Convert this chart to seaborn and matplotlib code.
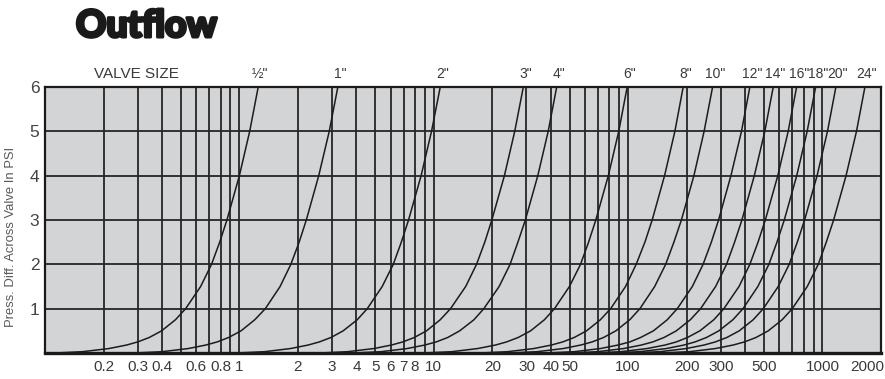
import matplotlib
matplotlib.use("Agg")
import matplotlib.pyplot as plt
import matplotlib.patheffects as pe
import seaborn as sns
import pandas as pd
from matplotlib.ticker import FixedLocator, FixedFormatter, LogLocator, NullFormatter
from matplotlib.transforms import ScaledTranslation

# ---------------- data ----------------
psi = [0, 0.03, 0.1, 0.18, 0.25, 0.35, 0.5, 0.75, 1, 1.5, 2, 2.5, 3, 4, 5, 6]

valve_labels = ['½"', '1"', '2"', '3"', '4"', '6"', '8"', '10"', '12"', '14"',
                '16"', '18"', '20"', '24"']

gpm_05 = [0.113, 0.156, 0.213, 0.263, 0.300, 0.344, 0.398, 0.469, 0.529, 0.632,
          0.719, 0.792, 0.863, 1.00, 1.13, 1.25]
gpm_1 = [0.289, 0.401, 0.545, 0.673, 0.769, 0.881, 1.02, 1.20, 1.36, 1.62,
         1.84, 2.03, 2.21, 2.56, 2.90, 3.21]
gpm_2 = [0.968, 1.35, 1.83, 2.26, 2.58, 2.96, 3.42, 4.04, 4.55, 5.43,
         6.19, 6.81, 7.42, 8.61, 9.74, 10.8]
gpm_3 = [2.60, 3.61, 4.91, 6.06, 6.93, 7.94, 9.18, 10.8, 12.2, 14.6,
         16.6, 18.3, 19.9, 23.1, 26.1, 28.9]
gpm_4 = [3.86, 5.36, 7.29, 9.00, 10.3, 11.8, 13.6, 16.1, 18.1, 21.7,
         24.7, 27.1, 29.6, 34.3, 38.8, 42.9]
gpm_6 = [8.90, 12.4, 16.8, 20.8, 23.7, 27.2, 31.5, 37.1, 41.8, 49.9,
         56.9, 62.6, 68.2, 79.1, 89.5, 98.9]
gpm_8 = [17.3, 24.0, 32.7, 40.3, 46.1, 52.8, 61.1, 72.0, 81.3, 97.0,
         110, 122, 133, 154, 174, 192]
gpm_10 = [24.5, 34.0, 46.3, 57.1, 65.3, 74.8, 86.5, 102, 115, 137,
          156, 172, 188, 218, 246, 272]
gpm_12 = [38.1, 52.9, 71.9, 88.8, 102, 116, 135, 159, 179, 214,
          243, 268, 292, 338, 383, 423]
gpm_14 = [50.2, 69.7, 94.8, 117, 134, 153, 177, 209, 236, 282,
          321, 353, 385, 446, 505, 558]
gpm_16 = [66.2, 92.0, 125, 155, 177, 202, 234, 276, 311, 372,
          423, 466, 508, 589, 666, 736]
gpm_18 = [82.9, 115, 157, 194, 221, 253, 293, 346, 390, 465,
          530, 583, 636, 737, 834, 922]
gpm_20 = [105, 146, 199, 246, 281, 322, 373, 440, 496, 592,
          674, 742, 809, 938, 1061, 1172]
gpm_24 = [149, 207, 281, 347, 397, 455, 526, 620, 699, 835,
          951, 1046, 1141, 1322, 1496, 1653]

x_tick_values = [0.2, 0.3, 0.4, 0.6, 0.8, 1, 2, 3, 4, 5, 6, 7, 8, 10, 20, 30,
                 40, 50, 100, 200, 300, 500, 1000, 2000]
x_tick_labels = ["0.2", "0.3", "0.4", "0.6", "0.8", "1", "2", "3", "4", "5",
                 "6", "7", "8", "10", "20", "30", "40", "50", "100", "200",
                 "300", "500", "1000", "2000"]
y_tick_values = [1, 2, 3, 4, 5, 6]

# ---------------- build table ----------------
all_flows = [gpm_05, gpm_1, gpm_2, gpm_3, gpm_4, gpm_6, gpm_8, gpm_10,
             gpm_12, gpm_14, gpm_16, gpm_18, gpm_20, gpm_24]
rows = []
for lab, flows in zip(valve_labels, all_flows):
    for p, q in zip(psi, flows):
        rows.append({"valve": lab, "gpm": q, "psi": p})
df = pd.DataFrame(rows)

# ---------------- plot ----------------
sns.set_theme(style="white")
plt.rcParams["font.family"] = ["Liberation Sans", "DejaVu Sans"]

fig = plt.figure(figsize=(8.85, 3.79), dpi=100)
ax = fig.add_axes([45 / 885, 26 / 379, 836 / 885, 266 / 379])
ax.set_facecolor("#d3d4d6")

sns.lineplot(data=df, x="gpm", y="psi", hue="valve",
             palette=["#1c1c1c"] * len(valve_labels), estimator=None,
             sort=False, legend=False, linewidth=1.1, ax=ax, zorder=3)

ax.set_xscale("log")
ax.set_xlim(0.1, 2000)
ax.set_ylim(0, 6)

ax.xaxis.set_major_locator(FixedLocator(x_tick_values))
ax.xaxis.set_major_formatter(FixedFormatter(x_tick_labels))
ax.xaxis.set_minor_locator(LogLocator(base=10, subs=range(2, 10), numticks=30))
ax.xaxis.set_minor_formatter(NullFormatter())
ax.set_yticks(y_tick_values)

ax.grid(True, which="both", axis="x", color="#262626", linewidth=1.3)
ax.grid(True, which="major", axis="y", color="#262626", linewidth=1.3)
ax.set_axisbelow(True)

ax.tick_params(axis="both", which="both", length=0)
ax.tick_params(axis="x", labelsize=11, pad=5, labelcolor="#3a3a3a")
ax.tick_params(axis="y", labelsize=12.5, pad=4, labelcolor="#444444")

# last x label sits inside the figure
lbls = ax.get_xticklabels()
lbls[-1].set_transform(lbls[-1].get_transform() +
                       ScaledTranslation(-14 / 100, 0, fig.dpi_scale_trans))

for side, sp in ax.spines.items():
    sp.set_visible(True)
    sp.set_color("#1a1a1a")
    sp.set_linewidth(1.6)
ax.spines["bottom"].set_linewidth(2.4)

ax.set_xlabel("")
ax.set_ylabel("Press. Diff. Across Valve In PSI", fontsize=9.4, color="#5a5a5a")
ax.yaxis.set_label_coords(-0.034, 0.436)

# valve size labels above the curve tops
for lab, flows in zip(valve_labels, all_flows):
    ax.annotate(lab, xy=(flows[-1], 1), xycoords=("data", "axes fraction"),
                xytext=(1.5, 4), textcoords="offset points", ha="center",
                va="bottom", fontsize=10, color="#3a3a3a")
ax.annotate("VALVE SIZE", xy=(0.109, 1), xycoords="axes fraction",
            xytext=(0, 4), textcoords="offset points", ha="center",
            va="bottom", fontsize=11, color="#3a3a3a")

fig.text(76 / 885, 1 - 9 / 379, "Outflow", fontsize=27, fontweight="black",
         family=["Lato", "DejaVu Sans"], va="top", ha="left", color="#1a1a1a",
         path_effects=[pe.withStroke(linewidth=2.2, foreground="#1a1a1a")])

fig.savefig("out.png", dpi=100)
